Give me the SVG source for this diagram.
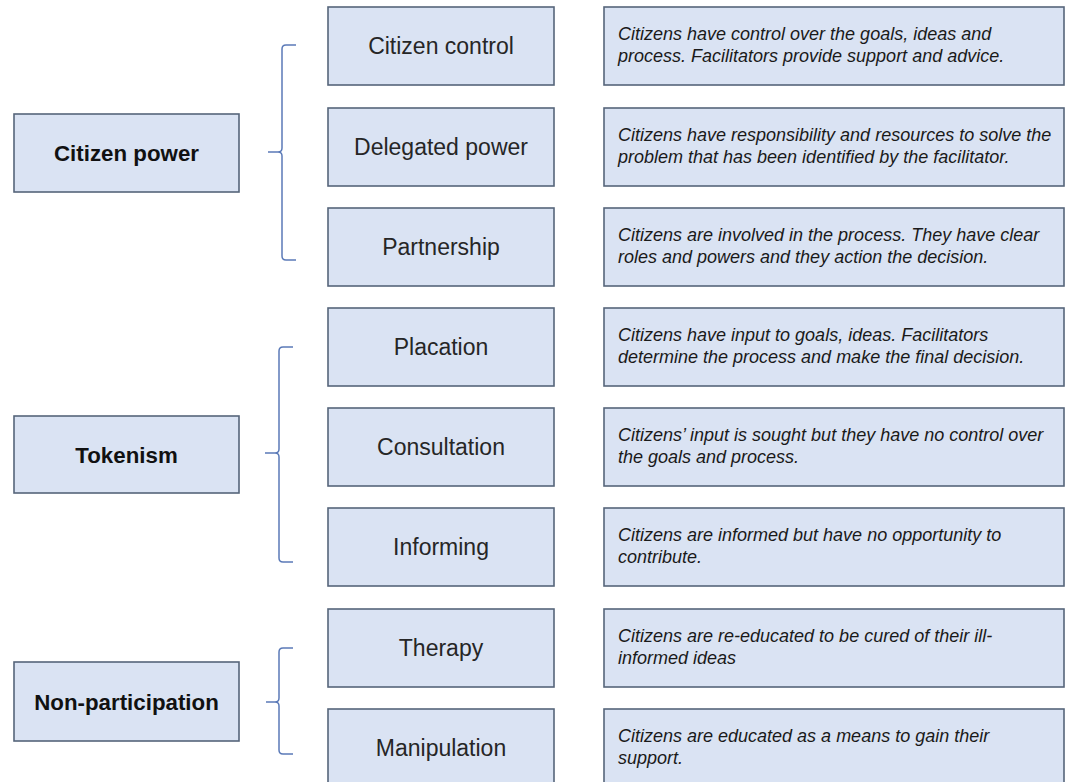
<svg xmlns="http://www.w3.org/2000/svg" width="1072" height="782" viewBox="0 0 1072 782">
<style>
.box{fill:#dae3f3;stroke:#56657a;stroke-width:1.6}
.cat{font-family:"Liberation Sans",Arial,sans-serif;font-weight:bold;font-size:22.3px;fill:#111;text-anchor:middle}
.lvl{font-family:"Liberation Sans",Arial,sans-serif;font-size:23px;fill:#262626;text-anchor:middle}
.desc{font-family:"Liberation Sans",Arial,sans-serif;font-style:italic;font-size:18px;fill:#1a1a1a}
.brace{fill:none;stroke:#5b7ab8;stroke-width:1.5}
</style>
<rect width="1072" height="782" fill="#ffffff"/>
<g id="citizen-power"><rect class="box" x="14" y="114" width="225" height="78"/><text class="cat" x="126.5" y="161">Citizen power</text></g>
<g id="tokenism"><rect class="box" x="14" y="416" width="225" height="77"/><text class="cat" x="126.5" y="463">Tokenism</text></g>
<g id="non-participation"><rect class="box" x="14" y="662" width="225" height="79"/><text class="cat" x="126.5" y="710">Non-participation</text></g>

<g id="citizen-control"><rect class="box" x="328" y="7" width="226" height="78"/><text class="lvl" x="441" y="54">Citizen control</text></g>
<g id="delegated-power"><rect class="box" x="328" y="108" width="226" height="78"/><text class="lvl" x="441" y="155">Delegated power</text></g>
<g id="partnership"><rect class="box" x="328" y="208" width="226" height="78"/><text class="lvl" x="441" y="255">Partnership</text></g>
<g id="placation"><rect class="box" x="328" y="308" width="226" height="78"/><text class="lvl" x="441" y="355">Placation</text></g>
<g id="consultation"><rect class="box" x="328" y="408" width="226" height="78"/><text class="lvl" x="441" y="455">Consultation</text></g>
<g id="informing"><rect class="box" x="328" y="508" width="226" height="78"/><text class="lvl" x="441" y="555">Informing</text></g>
<g id="therapy"><rect class="box" x="328" y="609" width="226" height="78"/><text class="lvl" x="441" y="656">Therapy</text></g>
<g id="manipulation"><rect class="box" x="328" y="709" width="226" height="80"/><text class="lvl" x="441" y="756">Manipulation</text></g>

<g id="desc-citizen-control"><rect class="box" x="604" y="7" width="460" height="78"/><text class="desc" x="618" y="40">Citizens have control over the goals, ideas and</text><text class="desc" x="618" y="62">process. Facilitators provide support and advice.</text></g>
<g id="desc-delegated-power"><rect class="box" x="604" y="108" width="460" height="78"/><text class="desc" x="618" y="141">Citizens have responsibility and resources to solve the</text><text class="desc" x="618" y="163">problem that has been identified by the facilitator.</text></g>
<g id="desc-partnership"><rect class="box" x="604" y="208" width="460" height="78"/><text class="desc" x="618" y="241">Citizens are involved in the process. They have clear</text><text class="desc" x="618" y="263">roles and powers and they action the decision.</text></g>
<g id="desc-placation"><rect class="box" x="604" y="308" width="460" height="78"/><text class="desc" x="618" y="341">Citizens have input to goals, ideas. Facilitators</text><text class="desc" x="618" y="363">determine the process and make the final decision.</text></g>
<g id="desc-consultation"><rect class="box" x="604" y="408" width="460" height="78"/><text class="desc" x="618" y="441">Citizens’ input is sought but they have no control over</text><text class="desc" x="618" y="463">the goals and process.</text></g>
<g id="desc-informing"><rect class="box" x="604" y="508" width="460" height="78"/><text class="desc" x="618" y="541">Citizens are informed but have no opportunity to</text><text class="desc" x="618" y="563">contribute.</text></g>
<g id="desc-therapy"><rect class="box" x="604" y="609" width="460" height="78"/><text class="desc" x="618" y="642">Citizens are re-educated to be cured of their ill-</text><text class="desc" x="618" y="664">informed ideas</text></g>
<g id="desc-manipulation"><rect class="box" x="604" y="709" width="460" height="80"/><text class="desc" x="618" y="742">Citizens are educated as a means to gain their</text><text class="desc" x="618" y="764">support.</text></g>

<g id="connectors">
<path class="brace" d="M296,45 L286,45 Q282,45 282,49 L282,148 Q282,152 278,152 L268,152 L278,152 Q282,152 282,156 L282,256 Q282,260 286,260 L296,260"/>
<path class="brace" d="M293,347 L283,347 Q279,347 279,351 L279,449 Q279,453 275,453 L265,453 L275,453 Q279,453 279,457 L279,558 Q279,562 283,562 L293,562"/>
<path class="brace" d="M293,648 L283,648 Q279,648 279,652 L279,698 Q279,702 275,702 L266,702 L275,702 Q279,702 279,706 L279,750 Q279,754 283,754 L293,754"/>
</g>
</svg>
